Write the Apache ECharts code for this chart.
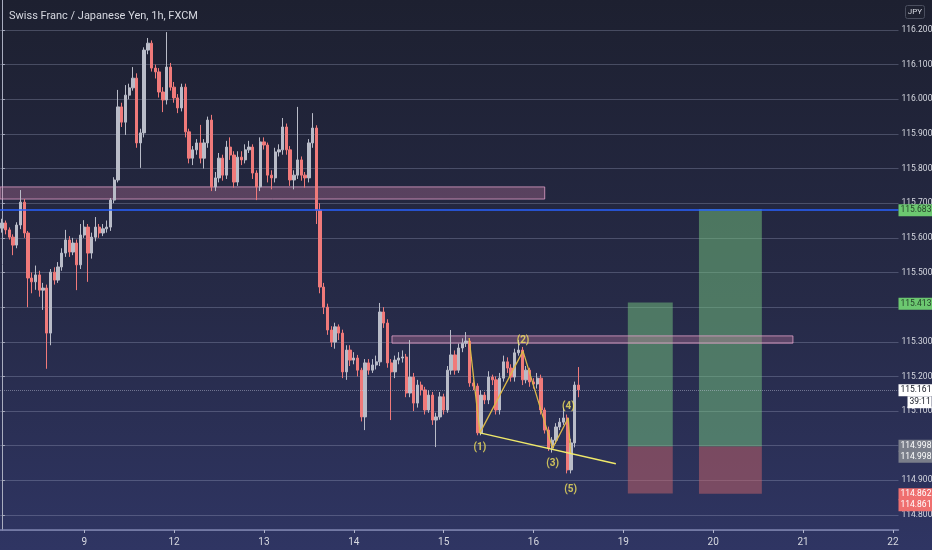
<!DOCTYPE html>
<html>
<head>
<meta charset="utf-8">
<title>CHFJPY 1h</title>
<script src="https://cdn.jsdelivr.net/npm/echarts@6/dist/echarts.min.js"></script>
<style>
  html, body { margin: 0; padding: 0; }
  body { background: linear-gradient(to bottom, #1d2030 0%, #262a47 55%, #2f3563 100%); }
  #chart { width: 932px; height: 550px; }
</style>
</head>
<body>
<div id="chart"></div>
<script>
// hourly candles: [open, close, low, high]
var candles = [
  [115.628, 115.643, 115.615, 115.655], [115.643, 115.623, 115.610, 115.650], [115.623, 115.602, 115.595, 115.630],
  [115.602, 115.579, 115.550, 115.610], [115.579, 115.637, 115.570, 115.645], [115.637, 115.703, 115.625, 115.738],
  [115.703, 115.614, 115.600, 115.712], [115.614, 115.484, 115.400, 115.620], [115.484, 115.473, 115.440, 115.500],
  [115.473, 115.493, 115.450, 115.520], [115.493, 115.449, 115.430, 115.505], [115.449, 115.455, 115.392, 115.470],
  [115.455, 115.325, 115.222, 115.465], [115.325, 115.501, 115.290, 115.510], [115.501, 115.478, 115.465, 115.515],
  [115.478, 115.516, 115.470, 115.530], [115.516, 115.556, 115.505, 115.570], [115.556, 115.594, 115.545, 115.623],
  [115.594, 115.559, 115.545, 115.605], [115.559, 115.585, 115.550, 115.600], [115.585, 115.522, 115.449, 115.595],
  [115.522, 115.608, 115.510, 115.640], [115.608, 115.631, 115.600, 115.651], [115.631, 115.556, 115.473, 115.640],
  [115.556, 115.602, 115.540, 115.615], [115.602, 115.631, 115.590, 115.660], [115.631, 115.614, 115.600, 115.640],
  [115.614, 115.626, 115.605, 115.640], [115.626, 115.631, 115.615, 115.650], [115.631, 115.709, 115.620, 115.715],
  [115.709, 115.767, 115.700, 115.775], [115.767, 115.978, 115.760, 116.027], [115.978, 115.934, 115.920, 115.990],
  [115.934, 116.012, 115.897, 116.041], [116.012, 116.033, 116.000, 116.045], [116.033, 116.061, 116.025, 116.093],
  [116.061, 115.874, 115.860, 116.075], [115.874, 115.903, 115.802, 115.915], [115.903, 116.142, 115.890, 116.150],
  [116.142, 116.162, 116.130, 116.177], [116.162, 116.090, 116.080, 116.170], [116.090, 116.079, 116.060, 116.100],
  [116.079, 116.021, 116.005, 116.090], [116.021, 115.998, 115.963, 116.035], [115.998, 116.093, 115.985, 116.194],
  [116.093, 116.035, 116.025, 116.105], [116.035, 116.004, 115.990, 116.050], [116.004, 115.975, 115.960, 116.015],
  [115.975, 116.035, 115.965, 116.045], [116.035, 115.906, 115.890, 116.045], [115.906, 115.830, 115.815, 115.915],
  [115.830, 115.854, 115.810, 115.865], [115.854, 115.874, 115.840, 115.885], [115.874, 115.830, 115.815, 115.926],
  [115.830, 115.874, 115.800, 115.885], [115.874, 115.940, 115.860, 115.950], [115.940, 115.747, 115.735, 115.955],
  [115.747, 115.773, 115.735, 115.790], [115.773, 115.830, 115.760, 115.845], [115.830, 115.781, 115.765, 115.840],
  [115.781, 115.862, 115.770, 115.880], [115.862, 115.839, 115.825, 115.890], [115.839, 115.761, 115.745, 115.850],
  [115.761, 115.833, 115.750, 115.850], [115.833, 115.825, 115.810, 115.850], [115.825, 115.854, 115.815, 115.870],
  [115.854, 115.862, 115.845, 115.880], [115.862, 115.787, 115.770, 115.870], [115.787, 115.747, 115.709, 115.795],
  [115.747, 115.877, 115.735, 115.890], [115.877, 115.868, 115.855, 115.890], [115.868, 115.781, 115.760, 115.875],
  [115.781, 115.773, 115.740, 115.795], [115.773, 115.848, 115.760, 115.860], [115.848, 115.854, 115.835, 115.870],
  [115.854, 115.920, 115.840, 115.946], [115.920, 115.854, 115.840, 115.930], [115.854, 115.767, 115.750, 115.865],
  [115.767, 115.781, 115.740, 115.795], [115.781, 115.825, 115.770, 115.978], [115.825, 115.781, 115.765, 115.835],
  [115.781, 115.773, 115.745, 115.790], [115.773, 115.874, 115.760, 115.885], [115.874, 115.917, 115.860, 115.960],
  [115.917, 115.680, 115.640, 115.925], [115.680, 115.458, 115.440, 115.700], [115.458, 115.400, 115.380, 115.470],
  [115.400, 115.334, 115.320, 115.410], [115.334, 115.299, 115.285, 115.345], [115.299, 115.343, 115.280, 115.355],
  [115.343, 115.325, 115.305, 115.350], [115.325, 115.213, 115.195, 115.335], [115.213, 115.276, 115.190, 115.290],
  [115.276, 115.247, 115.230, 115.290], [115.247, 115.253, 115.235, 115.270], [115.253, 115.218, 115.200, 115.262],
  [115.218, 115.083, 115.070, 115.225], [115.083, 115.239, 115.045, 115.250], [115.239, 115.218, 115.205, 115.250],
  [115.218, 115.233, 115.210, 115.250], [115.233, 115.242, 115.220, 115.260], [115.242, 115.386, 115.230, 115.412],
  [115.386, 115.354, 115.340, 115.400], [115.354, 115.239, 115.225, 115.365], [115.239, 115.213, 115.074, 115.250],
  [115.213, 115.247, 115.195, 115.260], [115.247, 115.253, 115.235, 115.270], [115.253, 115.256, 115.240, 115.275],
  [115.256, 115.152, 115.140, 115.265], [115.152, 115.198, 115.140, 115.305], [115.198, 115.123, 115.100, 115.210],
  [115.123, 115.175, 115.110, 115.190], [115.175, 115.161, 115.145, 115.185], [115.161, 115.103, 115.090, 115.170],
  [115.103, 115.146, 115.095, 115.160], [115.146, 115.074, 115.060, 115.155], [115.074, 115.083, 114.996, 115.095],
  [115.083, 115.141, 115.075, 115.155], [115.141, 115.103, 115.090, 115.150], [115.103, 115.218, 115.095, 115.230],
  [115.218, 115.262, 115.205, 115.334], [115.262, 115.218, 115.205, 115.275], [115.218, 115.282, 115.210, 115.295],
  [115.282, 115.296, 115.270, 115.310], [115.296, 115.302, 115.285, 115.328], [115.302, 115.181, 115.170, 115.310],
  [115.181, 115.172, 115.160, 115.190], [115.172, 115.037, 115.030, 115.180], [115.037, 115.146, 115.030, 115.160],
  [115.146, 115.132, 115.120, 115.155], [115.132, 115.198, 115.120, 115.215], [115.198, 115.190, 115.175, 115.205],
  [115.190, 115.103, 115.090, 115.200], [115.103, 115.195, 115.090, 115.210], [115.195, 115.242, 115.185, 115.260],
  [115.242, 115.224, 115.210, 115.255], [115.224, 115.198, 115.185, 115.235], [115.198, 115.268, 115.185, 115.280],
  [115.268, 115.276, 115.260, 115.305], [115.276, 115.190, 115.175, 115.285], [115.190, 115.218, 115.180, 115.230],
  [115.218, 115.184, 115.170, 115.225], [115.184, 115.178, 115.165, 115.195], [115.178, 115.195, 115.165, 115.210],
  [115.195, 115.103, 115.090, 115.205], [115.103, 115.045, 115.035, 115.110], [115.045, 114.993, 114.985, 115.055],
  [114.993, 115.016, 114.980, 115.025], [115.016, 115.054, 115.005, 115.065], [115.054, 115.068, 115.045, 115.080],
  [115.068, 115.080, 115.060, 115.110], [115.080, 114.930, 114.920, 115.090], [114.930, 115.008, 114.920, 115.020],
  [115.008, 115.175, 114.995, 115.185], [115.175, 115.161, 115.140, 115.227]
];

// x axis: hours from the 8th 02:00, day labels at midnight
var firstDayHours = 22;
var dayLabels = ['9', '12', '13', '14', '15', '16', '19', '20', '21', '22'];

// elliott wave (index on the hour axis, price)
var waveX = [124.8, 127.7, 139.2, 147.1, 151.3, 151.9];
var waveY = [115.311, 115.037, 115.273, 114.993, 115.080, 114.979];
var waveNames = ['', '(1)', '(2)', '(3)', '(4)', '(5)'];
var trendX = [127.7, 164.0];
var trendY = [115.037, 114.948];

// supply zones [fromIdx, toIdx, low, high]
var zones = [[-0.6, 145.0, 115.712, 115.747], [104.2, 211.3, 115.296, 115.317]];
// long positions [fromIdx, toIdx, entry, target, stop]
var positions = [[167.2, 179.2, 114.998, 115.413, 114.862], [186.2, 203.0, 114.998, 115.683, 114.861]];

var lastPrice = 115.161;
var countdown = '39:11';
var blueLevel = 115.683;

function pad(h) { return (h < 10 ? '0' : '') + h; }

var categories = [];
for (var h = 24 - firstDayHours; h < 24; h++) categories.push('8 ' + pad(h));
dayLabels.forEach(function (d, k) {
  var n = k === dayLabels.length - 1 ? 2 : 24;
  for (var hh = 0; hh < n; hh++) categories.push(d + ' ' + pad(hh));
});

function isMidnight(index, value) { return / 00$/.test(value); }

var font = 'Roboto';
var txt = '#d6d8e0';
var priceFont = 8.5;
var hidden = { color: 'rgba(0,0,0,0)', width: 0 };

function tag(value, text, bg, color, offset) {
  return {
    yAxis: value,
    lineStyle: hidden,
    label: {
      show: true, position: 'end', distance: 0, formatter: text,
      backgroundColor: bg, color: color, padding: [2, 1, 1, 2],
      fontSize: priceFont, fontFamily: font, offset: offset || [0, 0]
    }
  };
}

var areaData = [];
positions.forEach(function (p) {
  areaData.push([{ xAxis: p[0], yAxis: p[3], itemStyle: { color: 'rgba(118,198,127,0.5)' } }, { xAxis: p[1], yAxis: p[2] }]);
  areaData.push([{ xAxis: p[0], yAxis: p[2], itemStyle: { color: 'rgba(199,100,106,0.5)' } }, { xAxis: p[1], yAxis: p[4] }]);
});
zones.forEach(function (z) {
  areaData.push([{ xAxis: z[0], yAxis: z[3], itemStyle: { color: 'rgba(215,130,170,0.3)', borderColor: 'rgba(225,160,200,0.8)', borderWidth: 1 } }, { xAxis: z[1], yAxis: z[2] }]);
});

var wavePts = waveX.map(function (x, i) { return [x, waveY[i]]; });
var labelPts = [];
waveNames.forEach(function (n, i) {
  if (!n) return;
  var below = i % 2 === 1;
  labelPts.push({
    value: [waveX[i], waveY[i]], name: n,
    label: { position: below ? 'bottom' : 'top', distance: i === 5 ? 32 : (below ? 10 : 6) }
  });
});

var chart = echarts.init(document.getElementById('chart'));
chart.setOption({
  backgroundColor: 'transparent',
  animation: false,
  title: {
    text: 'Swiss Franc / Japanese Yen, 1h, FXCM',
    left: 4, top: 6,
    textStyle: { color: txt, fontSize: 11, fontWeight: 'normal', fontFamily: font }
  },
  graphic: [{
    type: 'group', right: 7, top: 5,
    children: [
      { type: 'rect', shape: { x: 0, y: 0, width: 19, height: 13, r: 2 }, style: { fill: '#1e2130', stroke: '#4a4e5e' } },
      { type: 'text', x: 9.5, y: 6.5, style: { text: 'JPY', fill: txt, fontSize: 8, fontFamily: font, align: 'center', verticalAlign: 'middle' } }
    ]
  }],
  grid: { left: 0, right: 33.5, top: -1, bottom: 20, outerBoundsMode: 'none', containLabel: false },
  xAxis: [{
    type: 'category',
    data: categories,
    boundaryGap: true,
    axisLine: { lineStyle: { color: '#7f84b0', width: 1.5 } },
    axisTick: { show: true, alignWithLabel: true, interval: isMidnight, length: 3, lineStyle: { color: '#b0b4cc' } },
    axisLabel: {
      interval: isMidnight, color: txt, fontSize: 10, fontFamily: font, margin: 7,
      formatter: function (v) { return v.split(' ')[0]; }
    },
    splitLine: { show: false }
  }, {
    type: 'value', min: -0.5, max: categories.length - 0.5, show: false
  }],
  yAxis: {
    type: 'value',
    position: 'right',
    min: 114.7566, max: 116.2895,
    splitNumber: 15,
    axisLine: { show: true, lineStyle: { color: '#a9adbf' } },
    axisTick: { show: true, length: 3, lineStyle: { color: '#a9adbf' } },
    axisLabel: {
      color: txt, fontSize: priceFont, fontFamily: font, margin: 3,
      showMinLabel: false, showMaxLabel: false,
      formatter: function (v) { return v.toFixed(3); }
    },
    splitLine: { show: true, lineStyle: { color: 'rgba(180,185,215,0.28)' } }
  },
  series: [{
    type: 'candlestick',
    data: candles,
    barWidth: 2.8,
    itemStyle: {
      color: '#b9bcc8', color0: '#f07a7a',
      borderColor: '#b9bcc8', borderColor0: '#f07a7a', borderWidth: 1
    },
    markLine: {
      silent: true, symbol: ['none', 'none'],
      data: [
        { yAxis: lastPrice, lineStyle: { color: 'rgba(200,204,225,0.45)', type: 'dotted', width: 1 }, label: { show: false } },
        {
          yAxis: blueLevel, lineStyle: { color: '#2962ff', width: 1.5, type: 'solid' },
          label: { show: true, position: 'end', distance: 0, formatter: blueLevel.toFixed(3), backgroundColor: '#6cc870', color: '#24422a', padding: [2, 1, 1, 2], fontSize: priceFont, fontFamily: font }
        },
        tag(positions[0][3], positions[0][3].toFixed(3), '#6cc870', '#24422a'),
        tag(positions[0][2], positions[0][2].toFixed(3), '#7a7e8a', '#ffffff'),
        tag(positions[1][2], positions[1][2].toFixed(3), '#7a7e8a', '#ffffff', [0, 11]),
        tag(positions[0][4], positions[0][4].toFixed(3), '#ef6f6f', '#ffffff'),
        tag(positions[1][4], positions[1][4].toFixed(3), '#ef6f6f', '#ffffff', [0, 11]),
        tag(lastPrice, lastPrice.toFixed(3), '#ffffff', '#131722'),
        tag(lastPrice, countdown, '#ffffff', '#131722', [9, 12])
      ]
    }
  }, {
    type: 'line',
    xAxisIndex: 1,
    data: wavePts,
    symbol: 'none',
    lineStyle: { color: '#dcb848', width: 1.3 },
    z: 3,
    markArea: { silent: true, data: areaData }
  }, {
    type: 'line',
    xAxisIndex: 1,
    data: trendX.map(function (x, i) { return [x, trendY[i]]; }),
    symbol: 'none',
    lineStyle: { color: '#f0e96a', width: 1.5 },
    z: 3
  }, {
    type: 'scatter',
    xAxisIndex: 1,
    data: labelPts,
    symbolSize: 0,
    z: 4,
    label: {
      show: true, formatter: '{b}', color: '#f4e45c', fontSize: 10, fontFamily: font, fontWeight: 'bold'
    }
  }]
});
</script>
</body>
</html>
